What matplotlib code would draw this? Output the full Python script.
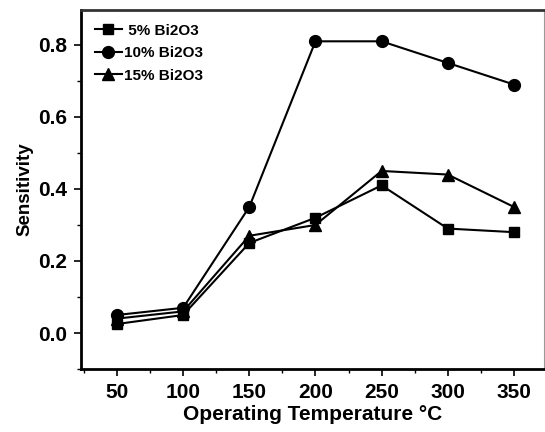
import numpy as np
import matplotlib.pyplot as plt
from matplotlib.ticker import MultipleLocator

# Données
temperature = [50, 100, 150, 200, 250, 300, 350]
sens_5 = [0.025, 0.05, 0.25, 0.32, 0.41, 0.29, 0.28]
sens_10 = [0.05, 0.07, 0.35, 0.81, 0.81, 0.75, 0.69]
sens_15 = [0.04, 0.06, 0.27, 0.30, 0.45, 0.44, 0.35]
labels = [' 5% Bi2O3', '10% Bi2O3', '15% Bi2O3']

plt.rcParams['font.family'] = ['Liberation Sans', 'DejaVu Sans']

fig = plt.figure(figsize=(5.45, 4.32), dpi=100)
ax = fig.add_axes([0.1486, 0.1458, 0.8495, 0.8311])

ax.plot(temperature, sens_5, 'ks-', lw=1.5, ms=7.5, label=labels[0])
ax.plot(temperature, sens_10, 'ko-', lw=1.5, ms=8.5, label=labels[1])
ax.plot(temperature, sens_15, 'k^-', lw=1.5, ms=8.5, label=labels[2])

ax.set_xlim(22.8, 372.7)
ax.set_ylim(-0.1, 0.897)
ax.set_xticks(temperature)
ax.set_yticks([0.0, 0.2, 0.4, 0.6, 0.8])
ax.xaxis.set_minor_locator(MultipleLocator(25))
ax.yaxis.set_minor_locator(MultipleLocator(0.1))
ax.tick_params(which='major', direction='out', length=5, width=1.2, labelsize=15, pad=5)
ax.tick_params(which='minor', direction='out', length=3, width=1)
for lab in ax.get_xticklabels() + ax.get_yticklabels():
    lab.set_fontweight('bold')

ax.set_xlabel('Operating Temperature °C', fontsize=15, fontweight='bold', labelpad=2)
ax.set_ylabel('Sensitivity', fontsize=13.5, fontweight='bold', labelpad=3)

for s in ['left', 'bottom']:
    ax.spines[s].set_linewidth(2)
ax.spines['top'].set_linewidth(2)
ax.spines['top'].set_color('#333333')
ax.spines['right'].set_linewidth(0.8)
ax.spines['right'].set_color('#999999')

leg = ax.legend(loc='upper left', frameon=False, handlelength=1.8, handletextpad=0.1,
                labelspacing=0.55, borderaxespad=0.5,
                prop={'size': 11, 'weight': 'bold'})

fig.savefig('out.png', dpi=100)
